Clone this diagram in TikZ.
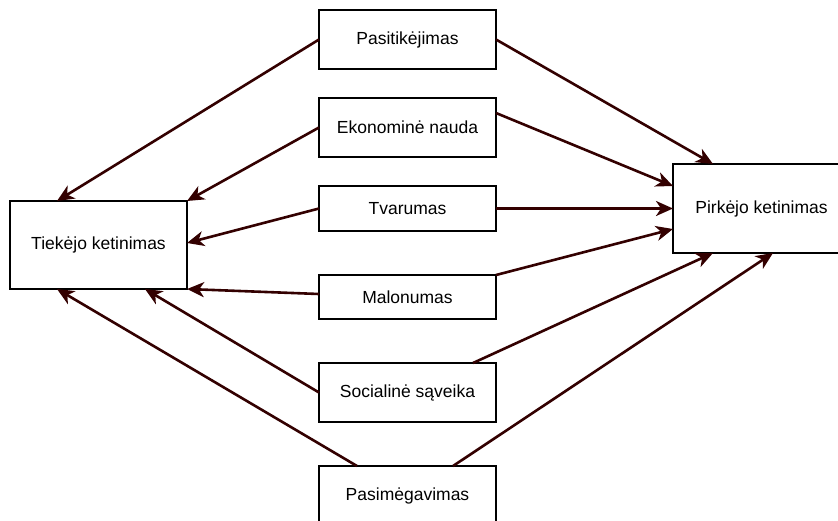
\documentclass[tikz,border=0pt]{standalone}
\usepackage{fontspec}
\setmainfont{Liberation Sans}
\usepackage{xcolor}
\usepackage{tikz}
\usetikzlibrary{arrows.meta, positioning}
\definecolor{arrowred}{HTML}{330000}

\begin{document}
\begin{tikzpicture}[
    x=1pt, y=-1pt,
    box/.style={draw, line width=1.4pt, minimum width=177pt, minimum height=59pt,
                inner sep=0pt, outer sep=0pt, text centered,
                font=\fontsize{17.5}{21}\selectfont},
    arr/.style={-{Stealth[length=17pt, width=15pt, inset=5pt]}, line width=2.6pt, arrowred},
    node distance=44pt
]
\useasboundingbox (0,0) rectangle (838,520);
\fill[white] (0,0) rectangle (838,520);
\clip (0,0) rectangle (838,520);

\node[box, minimum height=88pt] (tiek) at (98.5,245) {Tiekėjo ketinimas};
\node[box, minimum height=89pt] (pirk) at (761.5,208.5) {Pirkėjo ketinimas};
\node[box] (pasit) at (407.5,39.5) {Pasitikėjimas};
\node[box, below=29pt of pasit] (ekon) {Ekonominė nauda};
\node[box, minimum height=45pt, below=29pt of ekon] (tvar) {Tvarumas};
\node[box, minimum height=44pt, below=of tvar] (malo) {Malonumas};
\node[box, below=of malo] (soc) {Socialinė sąveika};
\node[box, below=of soc] (pasim) {Pasimėgavimas};

\draw[arr] (pasit.west) -- ([xshift=47pt]tiek.north west);
\draw[arr] (pasit.east) -- ([xshift=40pt]pirk.north west);
\draw[arr] (ekon.west) -- (tiek.north east);
\draw[arr] ([yshift=-15pt]ekon.north east) -- ([yshift=-22pt]pirk.north west);
\draw[arr] (tvar.west) -- ([yshift=2pt]tiek.east);
\draw[arr] (tvar.east) -- (pirk.west);
\draw[arr] ([yshift=3pt]malo.west) -- (tiek.south east);
\draw[arr] (malo.north east) -- ([yshift=24pt]pirk.south west);
\draw[arr] (soc.west) -- ([xshift=-42pt]tiek.south east);
\draw[arr] ([xshift=-23pt]soc.north east) -- ([xshift=40pt]pirk.south west);
\draw[arr] ([xshift=38pt]pasim.north west) -- ([xshift=47pt]tiek.south west);
\draw[arr] ([xshift=-43pt]pasim.north east) -- ([xshift=100pt]pirk.south west);
\end{tikzpicture}
\end{document}
